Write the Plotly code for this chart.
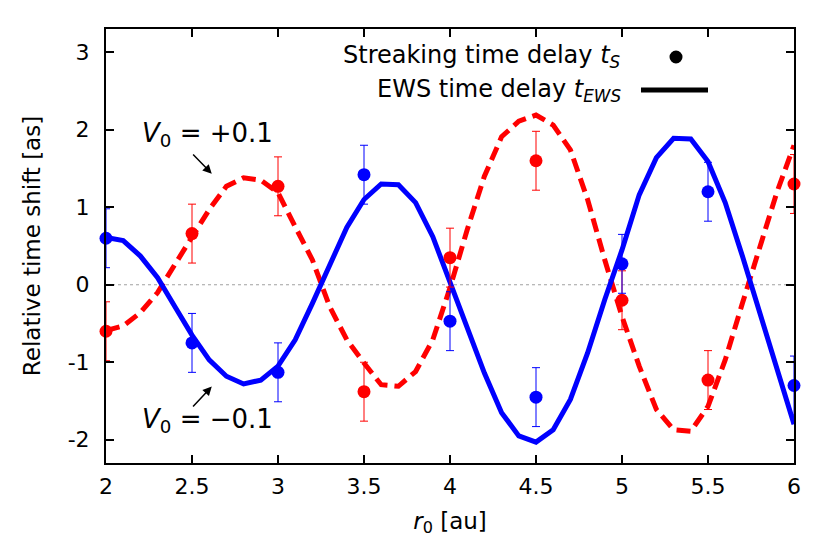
import plotly.graph_objects as go

# ---- data ----
x_curve = [2.0, 2.1, 2.2, 2.3, 2.4, 2.5, 2.6, 2.7, 2.8, 2.9, 3.0, 3.1, 3.2, 3.3, 3.4, 3.5, 3.6, 3.7, 3.8, 3.9,
           4.0, 4.1, 4.2, 4.3, 4.4, 4.5, 4.6, 4.7, 4.8, 4.9, 5.0, 5.1, 5.2, 5.3, 5.4, 5.5, 5.6, 5.7, 5.8, 5.9, 6.0]
ews_minus = [0.61, 0.57, 0.37, 0.09, -0.28, -0.65, -0.97, -1.18, -1.28, -1.23, -1.05, -0.71, -0.24, 0.25, 0.74,
             1.10, 1.30, 1.29, 1.06, 0.62, 0.04, -0.54, -1.14, -1.65, -1.95, -2.03, -1.87, -1.48, -0.88, -0.19,
             0.45, 1.16, 1.64, 1.89, 1.88, 1.59, 1.06, 0.37, -0.36, -1.10, -1.80]
ews_plus = [-0.59, -0.53, -0.36, -0.10, 0.26, 0.62, 0.97, 1.27, 1.38, 1.35, 1.19, 0.75, 0.32, -0.28, -0.71,
            -1.01, -1.29, -1.31, -1.12, -0.71, -0.04, 0.71, 1.40, 1.91, 2.11, 2.19, 2.06, 1.74, 1.10, 0.32,
            -0.41, -1.05, -1.61, -1.87, -1.89, -1.57, -0.97, -0.24, 0.45, 1.19, 1.80]

x_points = [2.0, 2.5, 3.0, 3.5, 4.0, 4.5, 5.0, 5.5, 6.0]
streak_minus = [0.60, -0.75, -1.13, 1.42, -0.47, -1.45, 0.27, 1.20, -1.30]
streak_plus = [-0.60, 0.66, 1.27, -1.38, 0.35, 1.60, -0.20, -1.23, 1.30]
err_minus = [0.38, 0.38, 0.38, 0.38, 0.38, 0.38, 0.38, 0.38, 0.38]
err_plus = [0.38, 0.38, 0.38, 0.38, 0.38, 0.38, 0.38, 0.38, 0.38]

x_tick_vals = [2, 2.5, 3, 3.5, 4, 4.5, 5, 5.5, 6]
x_tick_text = ["2", "2.5", "3", "3.5", "4", "4.5", "5", "5.5", "6"]
y_tick_vals = [-2, -1, 0, 1, 2, 3]
y_tick_text = ["-2", "-1", "0", "1", "2", "3"]

BLUE = "rgb(0,0,255)"
RED = "rgb(255,0,0)"
FONT = "DejaVu Sans"

fig = go.Figure()

fig.add_trace(go.Scatter(x=x_curve, y=ews_plus, mode="lines",
                         line=dict(color=RED, width=5, dash="14px,7px"), showlegend=False))
fig.add_trace(go.Scatter(x=x_curve, y=ews_minus, mode="lines",
                         line=dict(color=BLUE, width=5), showlegend=False))
fig.add_trace(go.Scatter(x=x_points, y=streak_plus, mode="markers",
                         marker=dict(color=RED, size=13),
                         error_y=dict(type="data", array=err_plus, color=RED, thickness=1, width=4),
                         cliponaxis=False, showlegend=False))
fig.add_trace(go.Scatter(x=x_points, y=streak_minus, mode="markers",
                         marker=dict(color=BLUE, size=13),
                         error_y=dict(type="data", array=err_minus, color=BLUE, thickness=1, width=4),
                         cliponaxis=False, showlegend=False))

axis_common = dict(showline=True, linecolor="black", linewidth=2, mirror="allticks",
                   ticks="inside", ticklen=8, tickwidth=1.5, tickcolor="black",
                   showgrid=False, zeroline=False, automargin=False,
                   tickfont=dict(family=FONT, size=22, color="black"))

fig.update_xaxes(range=[2, 6], tickmode="array", tickvals=x_tick_vals, ticktext=x_tick_text,
                 ticklabelstandoff=3,
                 title=dict(text="<i>r</i><sub>0</sub> [au]", font=dict(family=FONT, size=23, color="black"),
                            standoff=14),
                 **axis_common)
fig.update_yaxes(range=[-2.3, 3.3], tickmode="array", tickvals=y_tick_vals, ticktext=y_tick_text,
                 ticklabelstandoff=10,
                 title=dict(text="Relative time shift [as]", font=dict(family=FONT, size=23, color="black"),
                            standoff=21),
                 **axis_common)

shapes = [
    # dotted zero line
    dict(type="line", xref="paper", yref="y", x0=0, x1=1, y0=0, y1=0,
         line=dict(color="rgb(160,160,160)", width=1, dash="dot"), layer="below"),
    # legend dot
    dict(type="circle", xref="paper", yref="paper", xsizemode="pixel", ysizemode="pixel",
         xanchor=0.8285, yanchor=0.9355, x0=-6.5, x1=6.5, y0=-6.5, y1=6.5,
         fillcolor="black", line=dict(color="black", width=0)),
    # legend line
    dict(type="line", xref="paper", yref="paper", x0=0.7776, x1=0.875, y0=0.8594, y1=0.8594,
         line=dict(color="black", width=5)),
]

annotations = [
    dict(xref="paper", yref="paper", x=0.7515, y=0.9355, xanchor="right", yanchor="middle",
         text="Streaking time delay <i>t<sub>S</sub></i>", showarrow=False,
         font=dict(family=FONT, size=24, color="black")),
    dict(xref="paper", yref="paper", x=0.7515, y=0.8594, xanchor="right", yanchor="middle",
         text="EWS time delay <i>t<sub>EWS</sub></i>", showarrow=False,
         font=dict(family=FONT, size=24, color="black")),
    dict(xref="paper", yref="paper", x=0.1475, y=0.7558, xanchor="center", yanchor="middle",
         text="<i>V</i><sub>0</sub> = +0.1", showarrow=False,
         font=dict(family=FONT, size=26, color="black")),
    dict(xref="paper", yref="paper", x=0.1475, y=0.099, xanchor="center", yanchor="middle",
         text="<i>V</i><sub>0</sub> = \u22120.1", showarrow=False,
         font=dict(family=FONT, size=26, color="black")),
    dict(xref="x", yref="y", x=2.615, y=1.432, ax=2.498, ay=1.699, axref="x", ayref="y",
         text="", showarrow=True, arrowhead=2, arrowsize=1.2, arrowwidth=1.5, arrowcolor="black"),
    dict(xref="x", yref="y", x=2.615, y=-1.312, ax=2.498, ay=-1.591, axref="x", ayref="y",
         text="", showarrow=True, arrowhead=2, arrowsize=1.2, arrowwidth=1.5, arrowcolor="black"),
]

fig.update_layout(width=829, height=542, margin=dict(l=106, r=35, t=29, b=79),
                  plot_bgcolor="white", paper_bgcolor="white",
                  font=dict(family=FONT, color="black"),
                  shapes=shapes, annotations=annotations, showlegend=False)

fig.write_html("out.html", config={"displayModeBar": False},
               post_script="document.body.style.margin='0';document.body.style.overflow='hidden';")
